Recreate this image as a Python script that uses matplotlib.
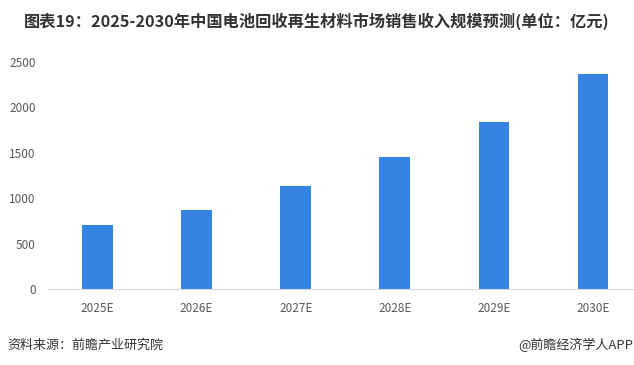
import matplotlib
matplotlib.use('Agg')
import matplotlib.pyplot as plt

plt.rcParams['font.family'] = ['Noto Sans CJK SC', 'DejaVu Sans']

years = ['2025E', '2026E', '2027E', '2028E', '2029E', '2030E']
revenue = [708, 873, 1135, 1456, 1842, 2370]

fig = plt.figure(figsize=(6.34, 3.65), dpi=100)
ax = fig.add_axes([48 / 634, (365 - 289) / 365, 1 - 48 / 634, (289 - 62) / 365])

ax.bar(range(len(years)), revenue, width=0.31, color='#3584e4', zorder=2)
ax.set_xlim(-0.5, 5.414)
ax.set_ylim(0, 2500)
ax.set_yticks([0, 500, 1000, 1500, 2000, 2500])
ax.set_xticks(range(len(years)))
ax.set_xticklabels(years)
ax.tick_params(axis='both', length=0, labelsize=8.5, colors='#595959')
ax.tick_params(axis='y', pad=9)
ax.tick_params(axis='x', pad=9)
for s in ['top', 'right', 'left']:
    ax.spines[s].set_visible(False)
ax.spines['bottom'].set_color('#d9d9d9')

fig.text(24 / 634, 1 - 21 / 365, '图表19：2025-2030年中国电池回收再生材料市场销售收入规模预测(单位：亿元)',
         fontsize=11.7, fontweight='bold', color='#333333', va='center', ha='left')
fig.text(7 / 634, 1 - 345 / 365, '资料来源：前瞻产业研究院', fontsize=9.4, color='#333333', va='center')
fig.text(1 - 1 / 634, 1 - 345 / 365, '@前瞻经济学人APP', fontsize=9.4, color='#333333', va='center', ha='right')

fig.savefig('out.png', dpi=100)
